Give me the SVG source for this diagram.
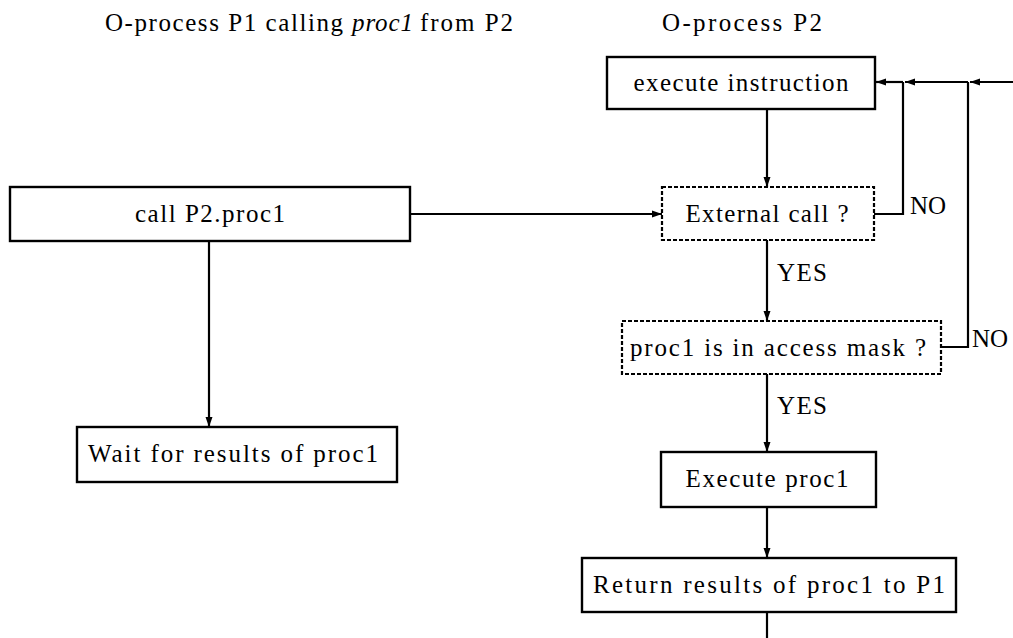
<svg xmlns="http://www.w3.org/2000/svg" width="1013" height="638" viewBox="0 0 1013 638">
<style>
text{font-family:"Liberation Serif","Times New Roman",serif;font-size:25px;fill:#000}
.box{fill:#fff;stroke:#000;stroke-width:2.4}
.dbox{fill:#fff;stroke:#000;stroke-width:2.2;stroke-dasharray:4 2}
.c{fill:none;stroke:#000;stroke-width:2.2}
.m{text-anchor:middle}
</style>
<defs>
<marker id="ah" markerUnits="userSpaceOnUse" markerWidth="10" markerHeight="8" refX="10" refY="4" orient="auto">
<path d="M0,0.5 L10,4 L0,7.5 z" fill="#000"/>
</marker>
</defs>
<g id="headings">
<text x="105" y="31" textLength="238" lengthAdjust="spacing">O-process P1 calling</text>
<text x="352" y="31" font-style="italic" textLength="61" lengthAdjust="spacing">proc1</text>
<text x="420" y="31" textLength="93" lengthAdjust="spacing">from P2</text>
<text x="662" y="31" textLength="160" lengthAdjust="spacing">O-process P2</text>
</g>
<g id="connectors">
<line class="c" x1="767" y1="109" x2="767" y2="187" marker-end="url(#ah)"/>
<line class="c" x1="410" y1="214" x2="662" y2="214" stroke-width="2.8" marker-end="url(#ah)"/>
<line class="c" x1="209" y1="241" x2="209" y2="427" marker-end="url(#ah)"/>
<line class="c" x1="767" y1="240" x2="767" y2="321" marker-end="url(#ah)"/>
<line class="c" x1="767" y1="374" x2="767" y2="452" marker-end="url(#ah)"/>
<line class="c" x1="767" y1="507" x2="767" y2="558" marker-end="url(#ah)"/>
<line class="c" x1="767" y1="612" x2="767" y2="638"/>
<polyline class="c" points="874,214 903,214 903,82"/>
<polyline class="c" points="941,347 968,347 968,82"/>
<line class="c" x1="1013" y1="82" x2="970" y2="82" marker-end="url(#ah)"/>
<line class="c" x1="968" y1="82" x2="905" y2="82" marker-end="url(#ah)"/>
<line class="c" x1="903" y1="82" x2="876" y2="82" marker-end="url(#ah)"/>
<text x="777" y="281" textLength="50" lengthAdjust="spacing">YES</text>
<text x="777" y="414" textLength="50" lengthAdjust="spacing">YES</text>
<text x="910" y="214">NO</text>
<text x="972" y="347">NO</text>
</g>
<g id="n-exec-instr">
<rect class="box" x="607" y="57" width="268" height="52"/>
<text class="m" x="741" y="91" textLength="215" lengthAdjust="spacing">execute instruction</text>
</g>
<g id="n-ext-call">
<rect class="dbox" x="662" y="187" width="212" height="53"/>
<text class="m" x="767" y="222" textLength="163" lengthAdjust="spacing">External call ?</text>
</g>
<g id="n-call">
<rect class="box" x="10" y="187" width="400" height="54"/>
<text class="m" x="210" y="222" textLength="150" lengthAdjust="spacing">call P2.proc1</text>
</g>
<g id="n-wait">
<rect class="box" x="77" y="427" width="320" height="55"/>
<text class="m" x="233" y="462" textLength="290" lengthAdjust="spacing">Wait for results of proc1</text>
</g>
<g id="n-mask">
<rect class="dbox" x="622" y="321" width="319" height="53"/>
<text class="m" x="778" y="356" textLength="296" lengthAdjust="spacing">proc1 is in access mask ?</text>
</g>
<g id="n-exec-proc">
<rect class="box" x="661" y="452" width="215" height="55"/>
<text class="m" x="767" y="487" textLength="163" lengthAdjust="spacing">Execute proc1</text>
</g>
<g id="n-return">
<rect class="box" x="582" y="558" width="374" height="54"/>
<text class="m" x="769" y="593" textLength="352" lengthAdjust="spacing">Return results of proc1 to P1</text>
</g>
</svg>
